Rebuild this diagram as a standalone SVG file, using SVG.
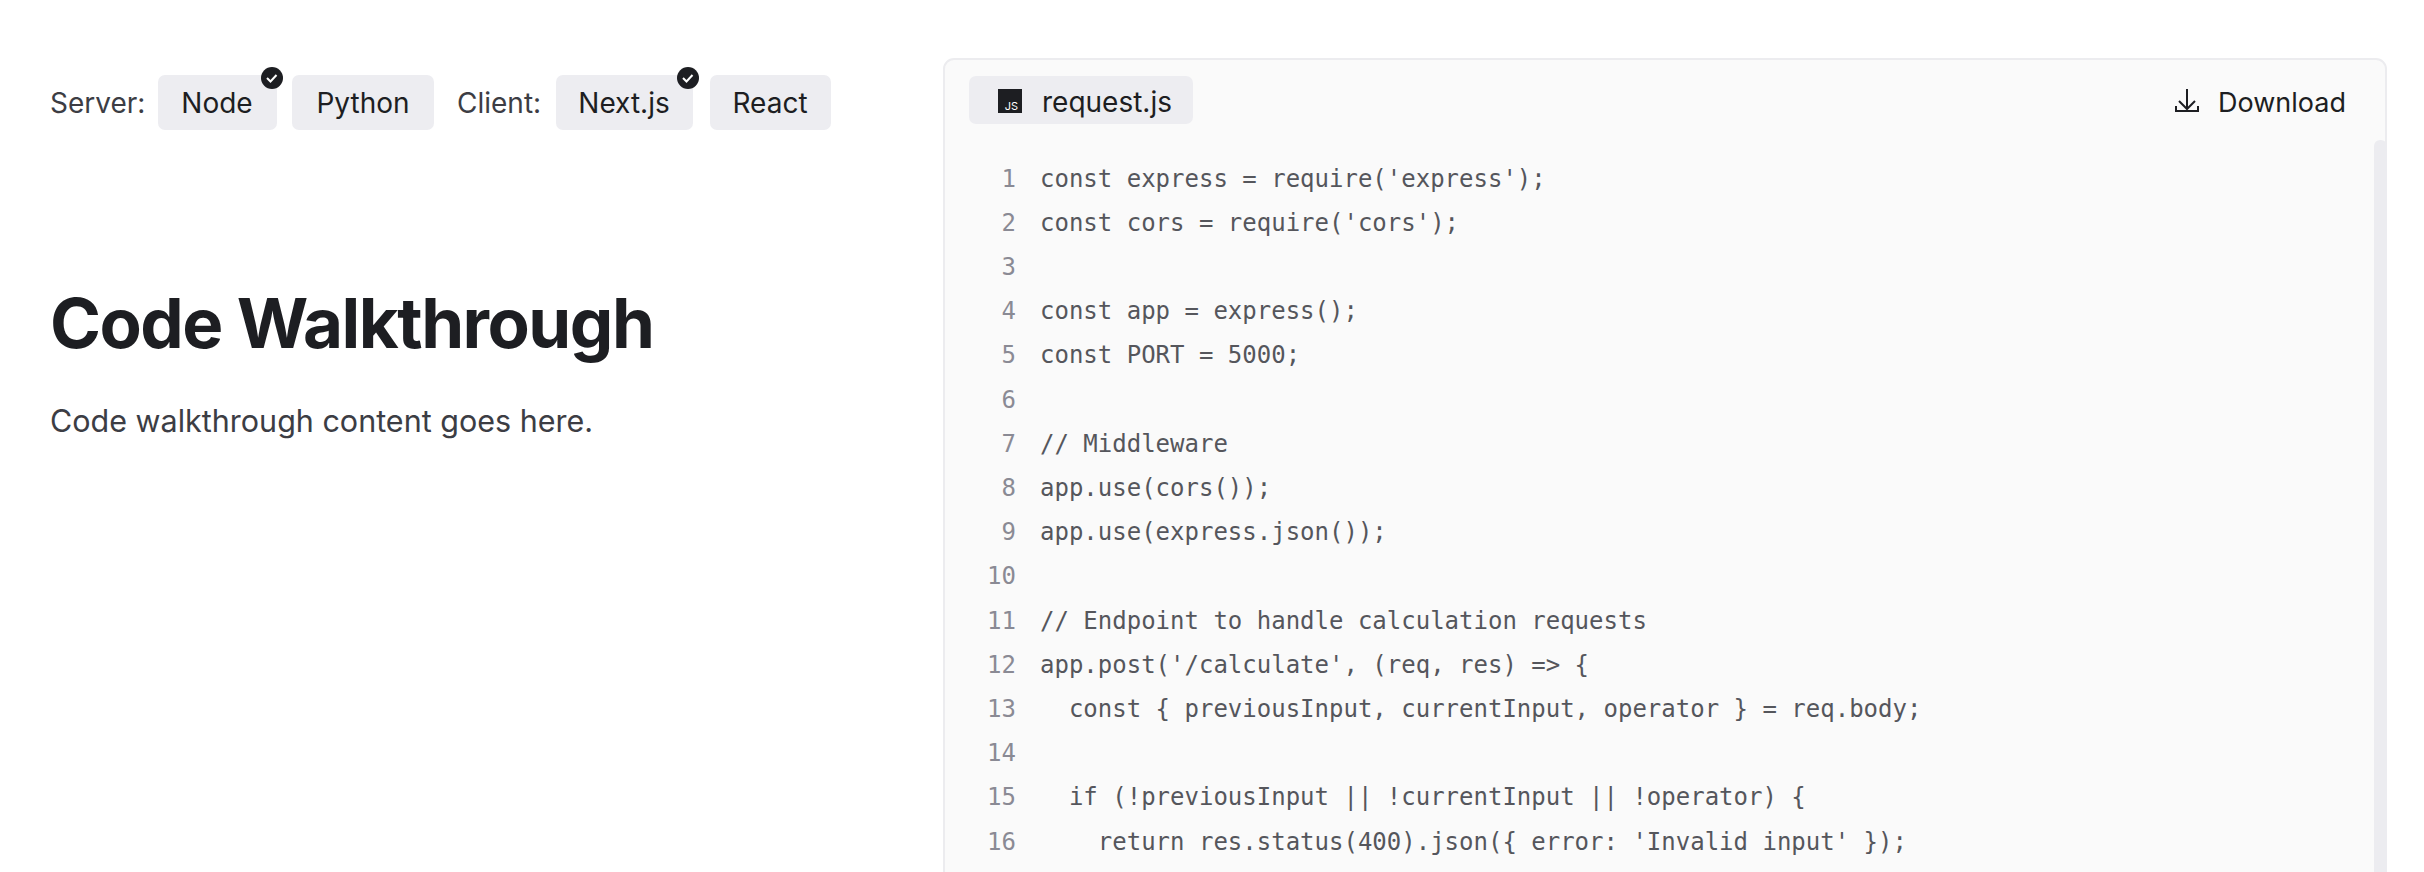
<svg xmlns="http://www.w3.org/2000/svg" width="2424" height="872" viewBox="0 0 2424 872">
<style>
.ui{font-family:Inter,"Liberation Sans",sans-serif;fill:#1d1e22}
.lbl{font-size:28px;fill:#3c3d44}
.chip{fill:#ededf1}
.chipt{font-size:28px;text-anchor:middle}
.ln{font-family:"DejaVu Sans Mono","Liberation Mono",monospace;font-size:24px;fill:#8a8a94;text-anchor:end}
.code{font-family:"DejaVu Sans Mono","Liberation Mono",monospace;font-size:24px;fill:#55565c;white-space:pre}
</style>
<rect width="2424" height="872" fill="#ffffff"/>
<g id="selectors">
<text class="ui lbl" x="50" y="113">Server:</text>
<g id="chip-node"><rect class="chip" x="158" y="75" width="119" height="55" rx="7"/><text class="ui chipt" x="217" y="113">Node</text>
<circle cx="272" cy="78" r="11" fill="#1d1e22"/><path d="M267 78l3.5 3.5 6-6.5" stroke="#fff" stroke-width="2" fill="none"/></g>
<g id="chip-python"><rect class="chip" x="292" y="75" width="142" height="55" rx="7"/><text class="ui chipt" x="363" y="113">Python</text></g>
<text class="ui lbl" x="457" y="113">Client:</text>
<g id="chip-next"><rect class="chip" x="556" y="75" width="137" height="55" rx="7"/><text class="ui chipt" x="624" y="113">Next.js</text>
<circle cx="688" cy="78" r="11" fill="#1d1e22"/><path d="M683 78l3.5 3.5 6-6.5" stroke="#fff" stroke-width="2" fill="none"/></g>
<g id="chip-react"><rect class="chip" x="710" y="75" width="121" height="55" rx="7"/><text class="ui chipt" x="770" y="113">React</text></g>
</g>
<g id="heading">
<text class="ui" x="50" y="348" font-size="69" font-weight="700" letter-spacing="-1.5">Code Walkthrough</text>
<text class="ui" x="50" y="432" font-size="30.5" style="fill:#3c3d44">Code walkthrough content goes here.</text>
</g>
<g id="code-panel">
<rect x="944" y="59" width="1442" height="840" rx="10" fill="#fafafa" stroke="#ececef" stroke-width="2"/>
<rect x="969" y="76" width="224" height="48" rx="7" fill="#ededf1"/>
<rect x="998" y="89" width="24" height="24" fill="#1d1e22"/>
<text x="1018" y="110" font-family="Inter,'Liberation Sans',sans-serif" font-size="11" fill="#fff" text-anchor="end">JS</text>
<text class="ui" x="1042" y="112" font-size="28">request.js</text>
<g fill="none" stroke="#1d1e22" stroke-width="2"><path d="M2187 89v20M2179 101l8 8 8-8M2176 106v5h22v-5"/></g>
<text class="ui" x="2218" y="112" font-size="27">Download</text>
<rect x="2374" y="140" width="13" height="740" rx="6" fill="#ececf0"/>
<g id="lines">
<text class="ln" x="1016" y="186.5">1</text><text class="code" x="1040" y="186.5" xml:space="preserve">const express = require('express');</text>
<text class="ln" x="1016" y="230.7">2</text><text class="code" x="1040" y="230.7" xml:space="preserve">const cors = require('cors');</text>
<text class="ln" x="1016" y="274.9">3</text>
<text class="ln" x="1016" y="319.1">4</text><text class="code" x="1040" y="319.1" xml:space="preserve">const app = express();</text>
<text class="ln" x="1016" y="363.3">5</text><text class="code" x="1040" y="363.3" xml:space="preserve">const PORT = 5000;</text>
<text class="ln" x="1016" y="407.5">6</text>
<text class="ln" x="1016" y="451.7">7</text><text class="code" x="1040" y="451.7" xml:space="preserve">// Middleware</text>
<text class="ln" x="1016" y="495.9">8</text><text class="code" x="1040" y="495.9" xml:space="preserve">app.use(cors());</text>
<text class="ln" x="1016" y="540.1">9</text><text class="code" x="1040" y="540.1" xml:space="preserve">app.use(express.json());</text>
<text class="ln" x="1016" y="584.3">10</text>
<text class="ln" x="1016" y="628.5">11</text><text class="code" x="1040" y="628.5" xml:space="preserve">// Endpoint to handle calculation requests</text>
<text class="ln" x="1016" y="672.7">12</text><text class="code" x="1040" y="672.7" xml:space="preserve">app.post('/calculate', (req, res) =&gt; {</text>
<text class="ln" x="1016" y="716.9">13</text><text class="code" x="1040" y="716.9" xml:space="preserve">  const { previousInput, currentInput, operator } = req.body;</text>
<text class="ln" x="1016" y="761.1">14</text>
<text class="ln" x="1016" y="805.3">15</text><text class="code" x="1040" y="805.3" xml:space="preserve">  if (!previousInput || !currentInput || !operator) {</text>
<text class="ln" x="1016" y="849.5">16</text><text class="code" x="1040" y="849.5" xml:space="preserve">    return res.status(400).json({ error: 'Invalid input' });</text>
<text class="ln" x="1016" y="893.7">17</text><text class="code" x="1040" y="893.7" xml:space="preserve">  }</text>
</g>
</g>
</svg>
